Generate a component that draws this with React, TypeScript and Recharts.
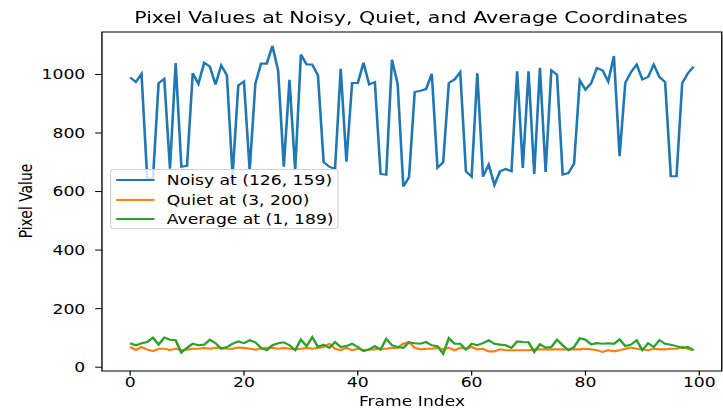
import React from 'react';
import { LineChart, Line, XAxis, YAxis, ReferenceArea } from 'recharts';

// pixel values per frame
const noisy = [
  990, 974, 1002, 645, 640, 970, 985, 678, 1039, 685,
  688, 1004, 968, 1040, 1027, 966, 1031, 997, 655, 962,
  976, 672, 968, 1037, 1037, 1097, 1014, 685, 982, 672,
  1068, 1034, 1034, 997, 700, 685, 677, 1019, 702, 971,
  971, 1040, 966, 974, 660, 657, 1050, 968, 617, 649,
  940, 944, 950, 1002, 681, 700, 971, 983, 1008, 669,
  651, 1004, 651, 692, 623, 669, 677, 669, 1011, 681,
  1011, 660, 1023, 667, 1014, 999, 658, 663, 695, 980,
  948, 970, 1022, 1014, 976, 1063, 721, 971, 1008, 1034,
  983, 991, 1034, 991, 974, 652, 652, 971, 1004, 1027,
];

const quiet = [
  69, 59, 69, 60, 55, 63, 63, 59, 63, 58,
  60, 63, 63, 66, 63, 66, 66, 63, 63, 67,
  66, 63, 60, 63, 66, 66, 63, 66, 63, 61,
  63, 66, 63, 66, 69, 80, 63, 58, 66, 58,
  63, 58, 61, 61, 63, 63, 66, 66, 80, 86,
  66, 61, 63, 63, 66, 61, 66, 58, 66, 63,
  69, 61, 63, 54, 54, 61, 58, 58, 58, 58,
  58, 61, 61, 61, 61, 61, 61, 61, 61, 61,
  63, 61, 58, 52, 58, 54, 58, 63, 67, 63,
  61, 58, 63, 61, 61, 63, 63, 69, 63, 58,
];

const average = [
  82, 75, 82, 86, 101, 77, 101, 94, 92, 50,
  66, 80, 75, 77, 94, 82, 63, 69, 80, 88,
  82, 92, 85, 66, 58, 75, 82, 85, 75, 58,
  94, 72, 103, 69, 77, 66, 86, 69, 72, 80,
  69, 55, 60, 72, 60, 97, 75, 69, 66, 85,
  82, 80, 86, 75, 72, 46, 99, 80, 80, 60,
  80, 75, 82, 92, 80, 77, 75, 66, 88, 86,
  85, 52, 78, 67, 69, 94, 75, 58, 69, 99,
  94, 78, 82, 80, 82, 80, 95, 72, 77, 92,
  58, 82, 69, 92, 80, 77, 72, 66, 69, 58,
];

const xTicks = [0, 20, 40, 60, 80, 100];
const yTicks = [0, 200, 400, 600, 800, 1000];

const series = [
  { key: 'noisy', name: 'Noisy at (126, 159)', color: '#1f77b4' },
  { key: 'quiet', name: 'Quiet at (3, 200)', color: '#ff7f0e' },
  { key: 'average', name: 'Average at (1, 189)', color: '#2ca02c' },
];

const data = noisy.map((v, i) => ({
  frame: i,
  noisy: v,
  quiet: quiet[i],
  average: average[i],
}));

// the reference looks stretched sideways, so draw narrow and scale x
const W = 585;
const H = 408;
const SX = 723 / W;
const FONT = '"DejaVu Sans", sans-serif';
const X_DOMAIN: [number, number] = [-4.95, 103.95];
const Y_DOMAIN: [number, number] = [-13, 1145];

const tickStyle = { fill: '#000', fontSize: 13.9, fontFamily: FONT };

export default function App() {
  return (
    <div
      style={{
        position: 'absolute',
        left: 0,
        top: 0,
        width: W,
        height: H,
        transform: `scale(${SX}, 1)`,
        transformOrigin: '0 0',
        fontFamily: FONT,
        background: '#fff',
      }}
    >
      <LineChart
        width={W}
        height={H}
        data={data}
        margin={{ top: 32, right: 1, bottom: 0, left: 0 }}
      >
        <XAxis
          dataKey="frame"
          type="number"
          domain={X_DOMAIN}
          allowDataOverflow
          ticks={xTicks}
          height={37}
          axisLine={false}
          tickLine={{ stroke: '#000', strokeWidth: 1 }}
          tickSize={4.5}
          tickMargin={2}
          tick={tickStyle}
        />
        <YAxis
          type="number"
          domain={Y_DOMAIN}
          allowDataOverflow
          ticks={yTicks}
          width={82.5}
          axisLine={false}
          tickLine={{ stroke: '#000', strokeWidth: 1 }}
          tickSize={5.5}
          tickMargin={8}
          tick={tickStyle}
        />
        {series.map((s) => (
          <Line
            key={s.key}
            dataKey={s.key}
            name={s.name}
            stroke={s.color}
            strokeWidth={2.1}
            dot={false}
            activeDot={false}
            isAnimationActive={false}
          />
        ))}
        <ReferenceArea
          x1={X_DOMAIN[0]}
          x2={X_DOMAIN[1]}
          y1={Y_DOMAIN[0]}
          y2={Y_DOMAIN[1]}
          fill="none"
          stroke="#000"
          strokeWidth={1.1}
          fillOpacity={0}
          strokeOpacity={1}
        />
      </LineChart>

      <div
        style={{
          position: 'absolute',
          left: 0,
          width: 822 / SX,
          top: 10,
          fontSize: 16.67,
          lineHeight: 1,
          textAlign: 'center',
          color: '#000',
          whiteSpace: 'nowrap',
        }}
      >
        Pixel Values at Noisy, Quiet, and Average Coordinates
      </div>

      <div
        style={{
          position: 'absolute',
          left: 0,
          width: 824 / SX,
          top: 395,
          fontSize: 13.9,
          lineHeight: 1,
          textAlign: 'center',
          color: '#000',
        }}
      >
        Frame Index
      </div>

      <div
        style={{
          position: 'absolute',
          left: 21 - 60,
          width: 120,
          top: 201 - 7,
          fontSize: 13.9,
          lineHeight: '14px',
          textAlign: 'center',
          color: '#000',
          transform: 'rotate(-90deg)',
        }}
      >
        Pixel Value
      </div>

      <div
        style={{
          position: 'absolute',
          left: 89,
          top: 169,
          width: 185,
          height: 60,
          boxSizing: 'border-box',
          border: '1px solid #d3d3d3',
          borderRadius: 3,
          background: 'rgba(255,255,255,0.8)',
        }}
      >
        {series.map((s, i) => (
          <div
            key={s.key}
            style={{
              position: 'absolute',
              left: 0,
              top: 2 + i * 19.7,
              height: 16,
              width: '100%',
            }}
          >
            <div
              style={{
                position: 'absolute',
                left: 4,
                top: 7,
                width: 30.5,
                height: 2.1,
                background: s.color,
              }}
            />
            <div
              style={{
                position: 'absolute',
                left: 45,
                top: 0,
                fontSize: 13.9,
                lineHeight: '16px',
                color: '#000',
                whiteSpace: 'nowrap',
              }}
            >
              {s.name}
            </div>
          </div>
        ))}
      </div>
    </div>
  );
}
